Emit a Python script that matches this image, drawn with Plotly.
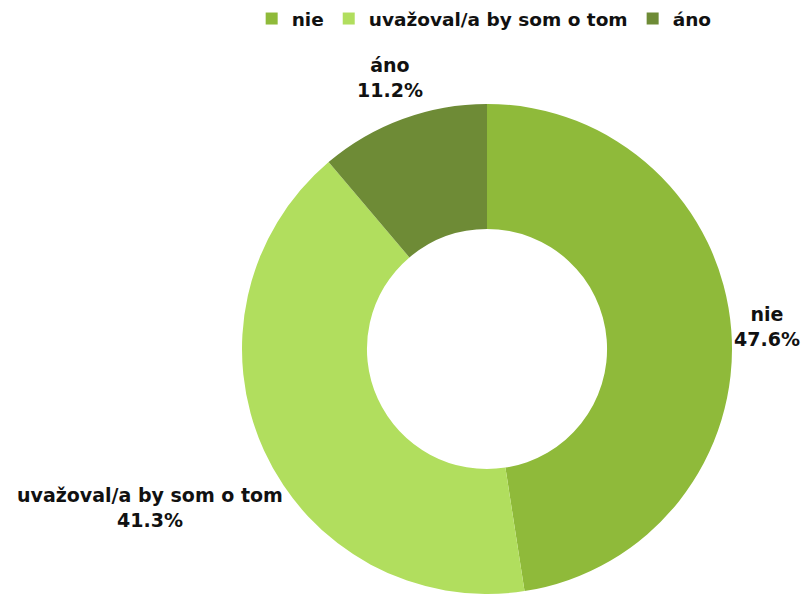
import plotly.graph_objects as go

labels = ["nie", "uvažoval/a by som o tom", "áno"]
values = [47.6, 41.3, 11.2]
colors = ["#8fba3a", "#b1de5e", "#6e8b36"]

# label anchor points (paper coords) for each slice's outside caption
label_x = [0.946, 0.185, 0.481]
label_y = [0.45, 0.145, 0.87]

FONT = "'DejaVu Sans', sans-serif"

fig = go.Figure(
    go.Pie(
        labels=labels,
        values=values,
        hole=0.49,
        sort=False,
        direction="clockwise",
        rotation=0,
        marker=dict(colors=colors, line=dict(width=0)),
        textinfo="none",
        hoverinfo="label+value",
        domain=dict(x=[0.2984, 0.9026], y=[0.0, 0.825]),
    )
)

annotations = []
for lab, val, x, y in zip(labels, values, label_x, label_y):
    annotations.append(
        dict(
            x=x, y=y, xref="paper", yref="paper",
            text=f"<b>{lab}</b><br><b>{val:.1f}%</b>",
            showarrow=False, xanchor="center", yanchor="middle",
            align="center",
            font=dict(family=FONT, size=19, color="#111111"),
        )
    )

fig.update_layout(
    width=811,
    height=594,
    margin=dict(l=0, r=0, t=0, b=0),
    paper_bgcolor="white",
    plot_bgcolor="white",
    font=dict(family=FONT),
    annotations=annotations,
    legend=dict(
        orientation="h",
        x=0.597, xanchor="center",
        y=1.0, yanchor="top",
        font=dict(family=FONT, size=18.5, color="#111111", weight="bold"),
        itemsizing="constant",
        traceorder="normal",
    ),
)

fig.write_html("out.html")
